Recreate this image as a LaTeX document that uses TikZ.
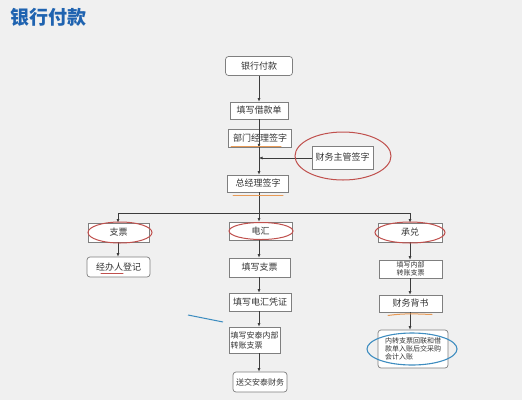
\documentclass[tikz,border=0pt]{standalone}
\usepackage{fontspec}
\setmainfont{Noto Sans CJK SC}
\usepackage{tikz}
\usetikzlibrary{calc,arrows.meta}
\definecolor{bg}{HTML}{F0F0F0}
\definecolor{ink}{HTML}{333333}
\definecolor{frame}{HTML}{7F7F7F}
\definecolor{wire}{HTML}{3C3C3C}
\definecolor{title}{HTML}{1F63B0}
\definecolor{ring}{HTML}{C0504D}
\definecolor{mark}{HTML}{E89A55}
\definecolor{sky}{HTML}{3E8DC0}
\tikzset{
  box/.style={draw=frame, fill=white, line width=0.7pt, inner sep=0pt, align=center,
    minimum width=62pt, minimum height=18pt, text=ink, font=\fontsize{9}{10}\selectfont},
  rbox/.style={box, rounded corners=3pt},
  small/.style={font=\fontsize{7}{8}\selectfont, align=left},
  link/.style={draw=wire, line width=0.6pt, -{Latex[length=3.5pt,width=3pt]}},
  line/.style={draw=wire, line width=0.6pt},
  redring/.style={draw=ring, line width=1pt},
  bluering/.style={draw=sky, line width=1.1pt},
  under/.style={draw=mark, line width=1pt, line cap=round},
}
\begin{document}
\begin{tikzpicture}[x=1pt,y=-1pt]
  \fill[bg] (0,0) rectangle (522,400);
  \useasboundingbox (0,0) rectangle (522,400);
  \node[anchor=west, text=title, font=\fontsize{19}{20}\selectfont\bfseries] (head) at (7,17) {银行付款};

  % main column
  \node[rbox, minimum width=67pt, minimum height=19pt] (start) at (259,66) {银行付款};
  \node[box, minimum width=58pt, minimum height=17pt] (fill) at (259,110.5) {填写借款单};
  \node[box, minimum width=63pt] (dept) at (260,138) {部门经理签字};
  \node[box, minimum width=61pt, minimum height=23pt] (cfo) at (342.5,157.5) {财务主管签字};
  \node[box, minimum width=61pt, minimum height=17pt] (gm) at (258,183.5) {总经理签字};
  \coordinate (join) at (259,158);
  \coordinate (split) at (259,213);
  \coordinate (left) at (118,213);
  \coordinate (right) at (410,213);

  % three ways
  \node[box, minimum width=61pt, minimum height=19pt] (cheque) at (118.5,232.5) {支票};
  \node[box, minimum width=63pt] (remit) at (260.5,231) {电汇};
  \node[box, minimum width=64pt, minimum height=19pt] (accept) at (410,232.5) {承兑};

  \node[rbox, minimum width=63pt, minimum height=20pt] (reg) at (118.5,267) {经办人登记};

  \node[box, minimum width=61pt, minimum height=19pt] (wcheque) at (259.5,267.5) {填写支票};
  \node[box, minimum width=62pt] (voucher) at (260,302) {\small 填写电汇凭证};
  \node[box, small, minimum width=51pt, minimum height=26pt, font=\fontsize{8}{10}\selectfont] (trans) at (254.5,340) {填写安泰内部\\转账支票};
  \node[rbox, minimum width=54pt, minimum height=20pt, font=\fontsize{8}{9}\selectfont] (send) at (260,382) {送交安泰财务};

  \node[box, small, minimum width=63pt] (inner) at (410.5,269) {填写内部\\转账支票};
  \node[box, minimum width=63pt, minimum height=17pt] (endorse) at (410.5,303.5) {财务背书};
  \node[rbox, small, minimum width=70pt, minimum height=38pt] (book) at (413,349) {内转支票回联和借\\款单入账后交采购\\会计入账};

  % connectors
  \draw[link] (start) -- (fill);
  \draw[link] (fill) -- (dept.south -| fill);
  \draw[line] (dept.south -| join) -- (join);
  \draw[link] (cfo.west |- join) -- (join);
  \draw[link] (join) -- (gm.north -| join);
  \draw[line] (gm.south -| split) -- (split);
  \draw[line] (left) -- (right);
  \draw[link] (left) -- (cheque.north -| left);
  \draw[link] (split) -- (remit.north -| split);
  \draw[link] (right) -- (accept.north -| right);
  \draw[link] (cheque.south -| left) -- (reg.north -| left);
  \draw[link] (remit.south -| split) -- (wcheque.north -| split);
  \draw[link] (wcheque.south -| split) -- (voucher.north -| split);
  \draw[link] (voucher.south -| split) -- (trans.north -| split);
  \draw[link] (trans.south -| split) -- (send.north -| split);
  \draw[link] (accept.south -| right) -- (inner.north -| right);
  \draw[link] (inner.south -| right) -- (endorse.north -| right);
  \draw[link] (endorse.south -| right) -- (book.north -| right);

  % marks
  \draw[redring] (343,156) ellipse [x radius=48pt, y radius=24pt];
  \draw[redring] (120,232.5) ellipse [x radius=32pt, y radius=10.5pt];
  \draw[redring] (261,231) ellipse [x radius=32pt, y radius=8.5pt];
  \draw[redring] (410,232.5) ellipse [x radius=35pt, y radius=10.5pt];
  \draw[bluering] (412,349) ellipse [x radius=45pt, y radius=16pt];
  \draw[under] (231,146.5) -- (281,146.5);
  \draw[under] (233,195) -- (283,195);
  \draw[under, draw=ring] (101,273) -- (123,273);
  \draw[under] (388,315.5) .. controls (405,313) and (418,314) .. (432,314.5);
  \draw[sky, line width=1pt] (188,315) -- (223,322);
\end{tikzpicture}
\end{document}
